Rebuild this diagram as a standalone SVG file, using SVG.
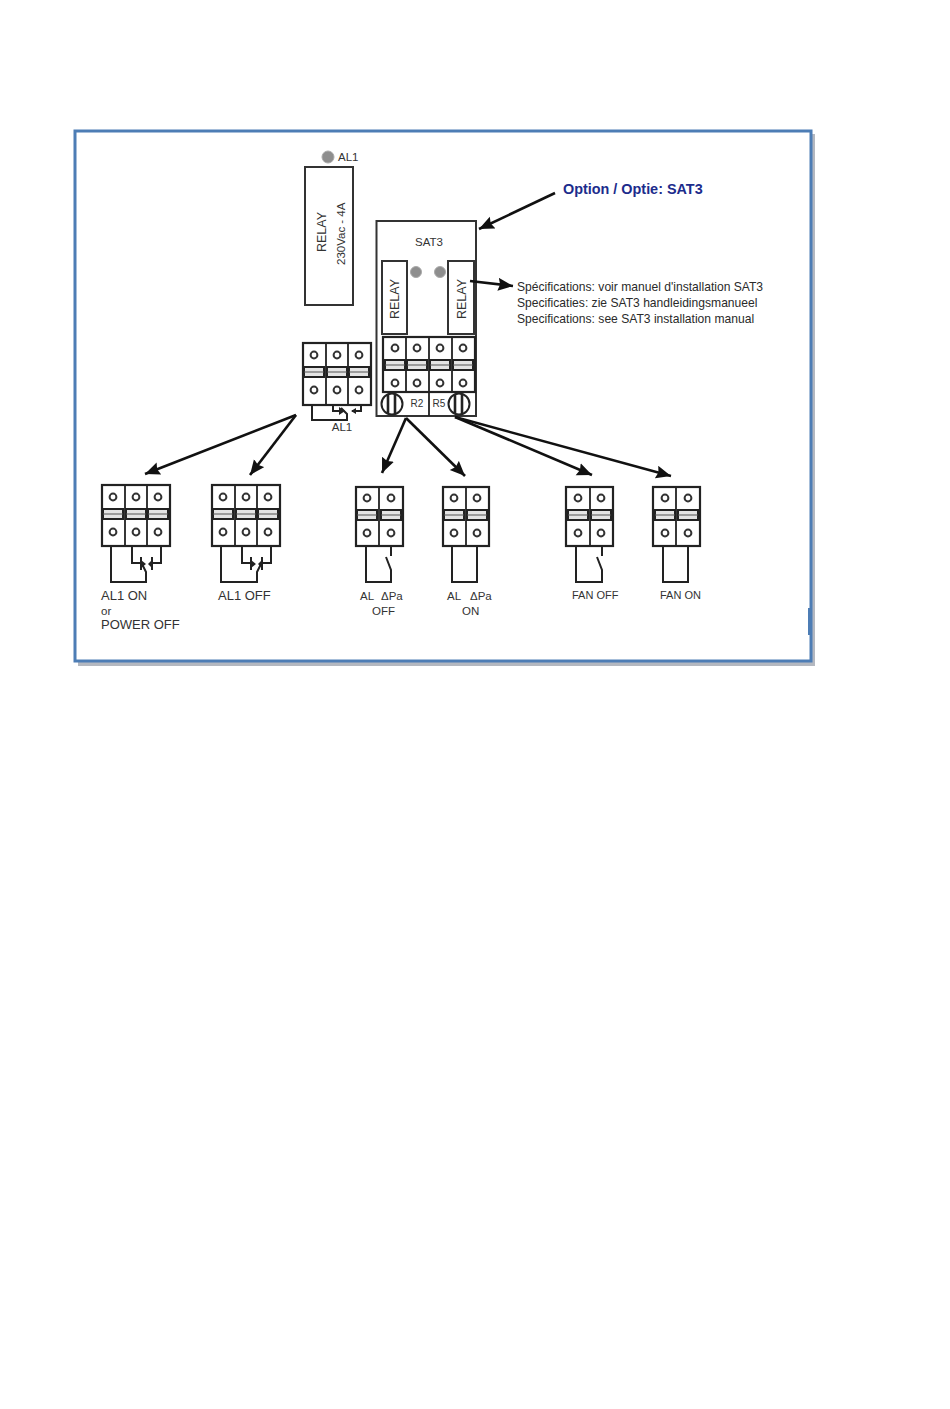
<svg xmlns="http://www.w3.org/2000/svg" xmlns:xlink="http://www.w3.org/1999/xlink" width="950" height="1409" viewBox="0 0 950 1409">
<style>
text{font-family:"Liberation Sans",Arial,sans-serif;fill:#333;font-size:12px}
.sm{font-size:11.5px}
.lg{font-size:13px}
.rl{font-size:12.500px}
.sp{font-size:12.100px;fill:#2a2a2a}
.fn{font-size:11px}
.tiny{font-size:10px}
.box{fill:#fff;stroke:#333;stroke-width:2}
.bk{fill:#fff;stroke:#222;stroke-width:2.200}
.dv{fill:none;stroke:#222;stroke-width:1.800}
.hd{fill:#e4e4e4;stroke:#222;stroke-width:2}
.sc{fill:#fff;stroke:#333;stroke-width:2}
.led{fill:#8e8e8e;stroke:#aaa;stroke-width:1}
.w{fill:none;stroke:#222;stroke-width:2}
.c{fill:none;stroke:#111;stroke-width:2.600}
.tri{fill:#222}
</style>
<defs>
<marker id="ah" markerUnits="userSpaceOnUse" markerWidth="16" markerHeight="14" refX="15" refY="6.500" orient="auto"><path d="M0 0L15 6.500L0 13L2 6.500Z" fill="#111"/></marker>
<g id="pole"><circle class="sc" cx="0" cy="0" r="3.400"/><rect class="hd" x="-10" y="12" width="20" height="10"/><line x1="-10" y1="17" x2="10" y2="17" stroke="#555" stroke-width="1"/><circle class="sc" cx="0" cy="35" r="3.400"/></g>
<g id="fuse"><circle cx="0" cy="0" r="10.500" fill="#fff" stroke="#222" stroke-width="2"/><line x1="-4" y1="-10" x2="-4" y2="10" stroke="#222" stroke-width="2.600"/><line x1="3" y1="-10" x2="3" y2="10" stroke="#222" stroke-width="2.600"/></g>
</defs>
<rect width="950" height="1409" fill="#fff"/>
<g id="frame">
<rect x="78" y="134" width="737" height="532" fill="#b4b8c0"/>
<rect x="75" y="131" width="736" height="530" fill="#fff" stroke="#4d7db5" stroke-width="3"/>
<line x1="809" y1="608" x2="809" y2="635" stroke="#4d7db5" stroke-width="2"/>
</g>
<g id="relay-main">
<rect class="box" x="305" y="167" width="48" height="138"/>
<circle class="led" cx="328" cy="157" r="6"/>
<text x="338" y="161" class="sm">AL1</text>
<text class="rl" transform="translate(325.500 252) rotate(-90)">RELAY</text>
<text class="sm" transform="translate(345 265) rotate(-90)">230Vac - 4A</text>
</g>
<g id="sat3">
<rect class="box" x="376.500" y="221" width="99.500" height="195"/>
<text x="429" y="246" text-anchor="middle" class="sm">SAT3</text>
<rect class="box" x="382" y="261" width="25" height="73"/>
<text class="rl" transform="translate(399 319) rotate(-90)">RELAY</text>
<rect class="box" x="448" y="261" width="26" height="73"/>
<text class="rl" transform="translate(466 319) rotate(-90)">RELAY</text>
<circle class="led" cx="416" cy="272" r="5.500"/>
<circle class="led" cx="440" cy="272" r="5.500"/>
<rect class="bk" x="383" y="337" width="92" height="55"/>
<path class="dv" d="M406 337V392M429 337V416M452 337V392"/>
<use xlink:href="#pole" href="#pole" x="395" y="348"/>
<use xlink:href="#pole" href="#pole" x="417" y="348"/>
<use xlink:href="#pole" href="#pole" x="440" y="348"/>
<use xlink:href="#pole" href="#pole" x="463" y="348"/>
<use xlink:href="#fuse" href="#fuse" x="392" y="404"/>
<use xlink:href="#fuse" href="#fuse" x="459" y="404"/>
<text x="417" y="407" text-anchor="middle" class="tiny">R2</text>
<text x="439" y="407" text-anchor="middle" class="tiny">R5</text>
</g>
<g id="al1-block">
<rect class="bk" x="303" y="343" width="68" height="62"/>
<path class="dv" d="M326 343V405M348 343V405"/>
<use xlink:href="#pole" href="#pole" x="314" y="355"/>
<use xlink:href="#pole" href="#pole" x="337" y="355"/>
<use xlink:href="#pole" href="#pole" x="359" y="355"/>
<path class="w" d="M312 405V420H347V414L341 408M333 405V411H341M361 405V411H352"/>
<path class="tri" d="M339 407L345 411L339 415ZM356 408L351 411L356 414Z"/>
<text x="342" y="431" text-anchor="middle" class="sm">AL1</text>
</g>
<g id="al1-on">
<rect class="bk" x="102" y="485" width="68" height="61"/>
<path class="dv" d="M125 485V546M147 485V546"/>
<use xlink:href="#pole" href="#pole" x="113" y="497"/>
<use xlink:href="#pole" href="#pole" x="136" y="497"/>
<use xlink:href="#pole" href="#pole" x="158" y="497"/>
<path class="w" d="M111 546V582H146V572L141 562M132 546V563H141M141 557V570M161 546V563H152M152 557V570"/>
<path class="tri" d="M141 560L146 564L141 568ZM152 560L148 564L152 568Z"/>
<text x="101" y="600" class="lg">AL1 ON</text>
<text x="101" y="615" class="sm">or</text>
<text x="101" y="629" class="lg">POWER OFF</text>
</g>
<g id="al1-off">
<rect class="bk" x="212" y="485" width="68" height="61"/>
<path class="dv" d="M235 485V546M257 485V546"/>
<use xlink:href="#pole" href="#pole" x="223" y="497"/>
<use xlink:href="#pole" href="#pole" x="246" y="497"/>
<use xlink:href="#pole" href="#pole" x="268" y="497"/>
<path class="w" d="M221 546V582H257V572L262 562M242 546V563H251M251 557V570M271 546V563H262M262 557V570"/>
<path class="tri" d="M251 560L256 564L251 568ZM262 560L258 564L262 568Z"/>
<text x="218" y="600" class="lg">AL1 OFF</text>
</g>
<g id="al-dpa-off">
<rect class="bk" x="356" y="487" width="47" height="59"/>
<path class="dv" d="M379 487V546"/>
<use xlink:href="#pole" href="#pole" x="367" y="498"/>
<use xlink:href="#pole" href="#pole" x="391" y="498"/>
<path class="w" d="M366 546V582H391V570L386 557M391 546V556"/>
<text x="360" y="600" class="sm">AL</text>
<text x="381" y="600" class="sm">ΔPa</text>
<text x="372" y="615" class="sm">OFF</text>
</g>
<g id="al-dpa-on">
<rect class="bk" x="443" y="487" width="46" height="59"/>
<path class="dv" d="M466 487V546"/>
<use xlink:href="#pole" href="#pole" x="454" y="498"/>
<use xlink:href="#pole" href="#pole" x="477" y="498"/>
<path class="w" d="M452 546V582H477V546"/>
<text x="447" y="600" class="sm">AL</text>
<text x="470" y="600" class="sm">ΔPa</text>
<text x="462" y="615" class="sm">ON</text>
</g>
<g id="fan-off">
<rect class="bk" x="566" y="487" width="47" height="59"/>
<path class="dv" d="M590 487V546"/>
<use xlink:href="#pole" href="#pole" x="578" y="498"/>
<use xlink:href="#pole" href="#pole" x="601" y="498"/>
<path class="w" d="M576 546V582H602V570L597 557M602 546V556"/>
<text x="572" y="599" class="fn">FAN OFF</text>
</g>
<g id="fan-on">
<rect class="bk" x="653" y="487" width="47" height="59"/>
<path class="dv" d="M676 487V546"/>
<use xlink:href="#pole" href="#pole" x="665" y="498"/>
<use xlink:href="#pole" href="#pole" x="688" y="498"/>
<path class="w" d="M663 546V582H688V546"/>
<text x="660" y="599" class="fn">FAN ON</text>
</g>
<g id="labels">
<text x="563" y="194" font-weight="bold" style="font-size:14.400px;fill:#1c2c8c">Option / Optie: SAT3</text>
<text x="517" y="291" class="sp">Spécifications: voir manuel d'installation SAT3</text>
<text x="517" y="307" class="sp">Specificaties: zie SAT3 handleidingsmanueel</text>
<text x="517" y="323" class="sp">Specifications: see SAT3 installation manual</text>
</g>
<g id="connectors">
<path class="c" d="M555 193L479 229" marker-end="url(#ah)"/>
<path class="c" d="M470 281L513 286" marker-end="url(#ah)"/>
<path class="c" d="M296 415L145 474" marker-end="url(#ah)"/>
<path class="c" d="M296 415L250 475" marker-end="url(#ah)"/>
<path class="c" d="M406 418L382 473" marker-end="url(#ah)"/>
<path class="c" d="M406 418L465 476" marker-end="url(#ah)"/>
<path class="c" d="M455 417L592 475" marker-end="url(#ah)"/>
<path class="c" d="M455 417L671 476" marker-end="url(#ah)"/>
</g>
</svg>
